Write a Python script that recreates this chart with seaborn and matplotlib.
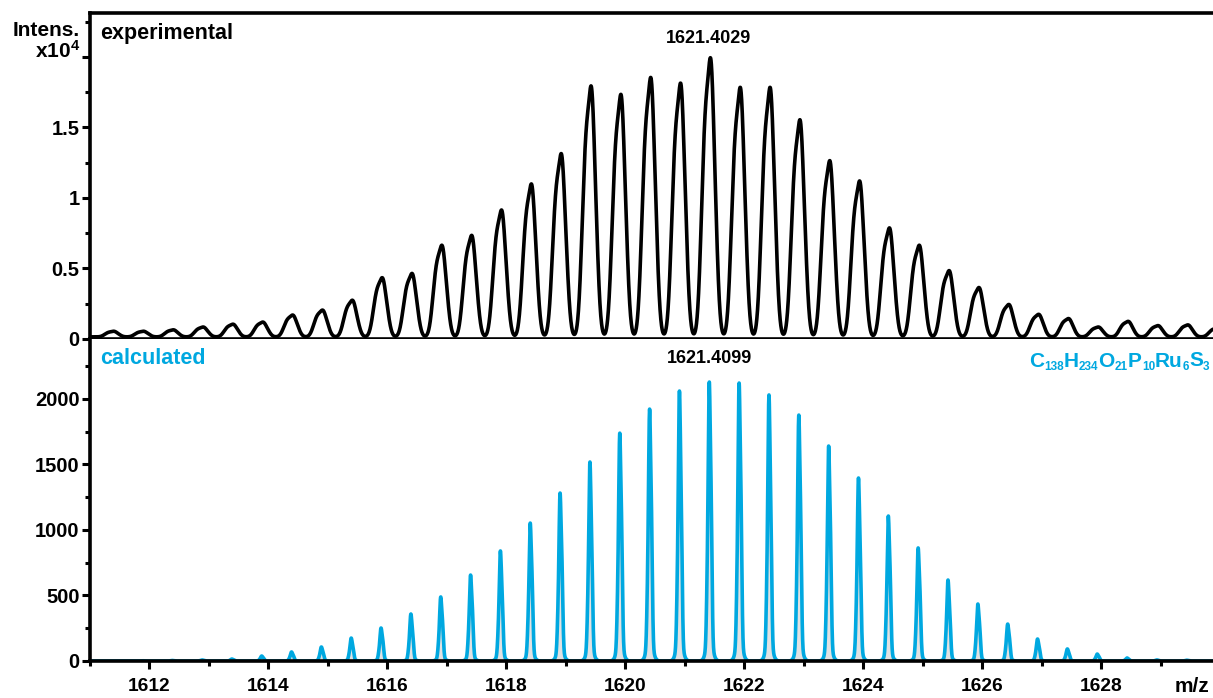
import numpy as np
import pandas as pd
import matplotlib
matplotlib.use("Agg")
import matplotlib.pyplot as plt
import matplotlib.transforms as mtransforms
from matplotlib.ticker import FixedLocator, MultipleLocator
import seaborn as sns

# ---- data -------------------------------------------------------------
# isotope envelope of the 2+ ion: peaks are 1.00335/2 m/z apart
iso_step = 1.00335 / 2

exp_mono = 1621.4029          # most intense experimental peak
exp_index = list(range(-20, 18))
exp_intensity = [400, 400, 500, 700, 900, 1050, 1550, 1900, 2600, 4200,
                 4500, 6500, 7200, 9000, 10850, 13000, 17800, 17200, 18400, 18000,
                 19800, 17700, 17700, 15400, 12500, 11060, 7730, 6500, 4700, 3500,
                 2300, 1600, 1300, 700, 1100, 800, 850, 650]

calc_mono = 1621.4099         # most intense calculated peak
calc_index = list(range(-19, 17))
calc_intensity = [2, 4, 8, 15, 38, 69, 107, 175, 252, 359,
                  489, 656, 840, 1053, 1282, 1519, 1740, 1923, 2061, 2130,
                  2122, 2031, 1878, 1641, 1397, 1107, 863, 618, 435, 282,
                  168, 92, 53, 23, 8, 6]

# line shape of one isotope peak: (offset m/z, width m/z, weight, exponent)
exp_components = [(0.0, 0.11, 1.0, 2.8), (0.035, 0.035, 0.15, 2.0)]
calc_components = [(0.0, 0.016, 1.0, 2.0), (0.032, 0.016, 0.55, 2.0),
                   (-0.03, 0.016, 0.25, 2.0), (0.005, 0.05, 0.1, 2.0)]
exp_baseline = 150

formula_parts = [("C", False), ("138", True), ("H", False), ("234", True),
                 ("O", False), ("21", True), ("P", False), ("10", True),
                 ("Ru", False), ("6", True), ("S", False), ("3", True)]

x_ticks_major = [1612, 1614, 1616, 1618, 1620, 1622, 1624, 1626, 1628]
top_ticks = [0, 5000, 10000, 15000, 20000]
top_tick_labels = ["0", "0.5", "1", "1.5", ""]
bot_ticks = [0, 500, 1000, 1500, 2000]

BLUE = "#00a8e0"
W, H = 1213, 698

# ---- profiles ---------------------------------------------------------
mz = np.linspace(1611.0, 1629.9, 16000)


def component(x, c, s, p):
    return np.exp(-0.5 * np.abs((x - c) / s) ** p)


def peak_shape(x, centre, comps):
    """Unit-height isotope peak built from its sub-components."""
    loc = np.linspace(-0.3, 0.3, 6001)
    norm = sum(w * component(loc, o, s, p) for o, s, w, p in comps).max()
    return sum(w * component(x, centre + o, s, p) for o, s, w, p in comps) / norm


exp_profile = np.full_like(mz, exp_baseline, dtype=float)
for k, h in zip(exp_index, exp_intensity):
    exp_profile += h * peak_shape(mz, exp_mono + k * iso_step, exp_components)

calc_profile = np.zeros_like(mz)
for k, h in zip(calc_index, calc_intensity):
    calc_profile += h * peak_shape(mz, calc_mono + k * iso_step, calc_components)

df_exp = pd.DataFrame({"mz": mz, "intensity": exp_profile})
df_calc = pd.DataFrame({"mz": mz, "intensity": calc_profile})

# ---- figure -----------------------------------------------------------
sns.set_theme(style="ticks")
plt.rcParams["font.family"] = ["Liberation Sans", "DejaVu Sans"]
plt.rcParams["font.weight"] = "bold"
plt.rcParams["mathtext.fontset"] = "custom"
plt.rcParams["mathtext.rm"] = "Liberation Sans:bold"
plt.rcParams["mathtext.bf"] = "Liberation Sans:bold"
plt.rcParams["mathtext.it"] = "Liberation Sans:bold"

fig = plt.figure(figsize=(W / 100, H / 100), dpi=100)
left = 90 / W
ax_top = fig.add_axes([left, (H - 339) / H, 1 - left, 326 / H])
ax_bot = fig.add_axes([left, (H - 661) / H, 1 - left, 322 / H], sharex=ax_top)

LW = 2.6
sns.lineplot(data=df_exp, x="mz", y="intensity", ax=ax_top, color="black",
             linewidth=LW, sort=False, estimator=None)
ax_bot.fill_between(mz, calc_profile, 0, color="#e2e2e2", linewidth=0)
sns.lineplot(data=df_calc, x="mz", y="intensity", ax=ax_bot, color=BLUE,
             linewidth=LW, sort=False, estimator=None)

ax_top.set_xlim(1611.0, 1629.88)
ax_top.set_ylim(0, 23120)
ax_bot.set_ylim(0, 2458)

for ax in (ax_top, ax_bot):
    ax.set_xlabel("")
    ax.set_ylabel("")
    ax.spines["right"].set_visible(False)
    for s in ax.spines.values():
        s.set_linewidth(LW)
        s.set_color("black")
    ax.tick_params(axis="y", which="major", direction="out", length=5.5,
                   width=2.2, labelsize=14.5, pad=2.0, colors="black")
    ax.tick_params(axis="y", which="minor", direction="out", length=3.5,
                   width=2.2, colors="black")

ax_bot.spines["top"].set_visible(False)

ax_top.yaxis.set_major_locator(FixedLocator(top_ticks))
ax_top.set_yticklabels(top_tick_labels)
ax_top.yaxis.set_minor_locator(MultipleLocator(2500))
ax_top.tick_params(axis="x", which="both", bottom=False, labelbottom=False)

ax_bot.yaxis.set_major_locator(FixedLocator(bot_ticks))
ax_bot.set_yticklabels([str(v) for v in bot_ticks])
ax_bot.yaxis.set_minor_locator(MultipleLocator(250))
ax_bot.xaxis.set_major_locator(FixedLocator(x_ticks_major))
ax_bot.set_xticklabels([str(v) for v in x_ticks_major])
ax_bot.xaxis.set_minor_locator(MultipleLocator(1))
ax_bot.tick_params(axis="x", which="major", direction="out", length=5.5,
                   width=2.2, labelsize=13.8, pad=6.5, colors="black")
ax_bot.tick_params(axis="x", which="minor", direction="out", length=3.5,
                   width=2.2, colors="black")

for lab in ax_top.get_yticklabels() + ax_bot.get_yticklabels() + ax_bot.get_xticklabels():
    lab.set_fontweight("bold")


def px(x, y):
    return x / W, 1 - y / H


# panel captions
ax_top.text(0.009, 0.937, "experimental", transform=ax_top.transAxes,
            fontsize=15.5, fontweight="bold", color="black", va="center", ha="left")
ax_bot.text(0.009, 0.94, "calculated", transform=ax_bot.transAxes,
            fontsize=15.5, fontweight="bold", color=BLUE, va="center", ha="left")

tr_top = mtransforms.blended_transform_factory(ax_top.transData, ax_top.transAxes)
tr_bot = mtransforms.blended_transform_factory(ax_bot.transData, ax_bot.transAxes)
ax_top.text(exp_mono, 0.923, f"{exp_mono:.4f}", transform=tr_top, fontsize=13,
            fontweight="bold", ha="center", va="center", color="black")
ax_bot.text(calc_mono, 0.938, f"{calc_mono:.4f}", transform=tr_bot, fontsize=13,
            fontweight="bold", ha="center", va="center", color="black")

# molecular formula, set right-to-left so the subscripts can be sized freely
BIG, SMALL, DROP = 15.0, 8.5, 2.6
DESC = 0.21          # font descent as a fraction of the font size
prev = None
prev_small = None
for text, small in reversed(formula_parts):
    size = SMALL if small else BIG
    if prev is None:
        prev = ax_bot.text(0.997, 0.905, text, transform=ax_bot.transAxes,
                           fontsize=size, fontweight="bold", color=BLUE,
                           ha="right", va="baseline")
    else:
        prev_size = SMALL if prev_small else BIG
        dy = DESC * prev_size + (DROP if (prev_small and not small) else 0.0) \
            - (DROP if (small and not prev_small) else 0.0)
        prev = ax_bot.annotate(text, xy=(0, 0), xycoords=prev, xytext=(0, dy),
                               textcoords="offset points", fontsize=size,
                               fontweight="bold", color=BLUE,
                               ha="right", va="baseline")
    prev_small = small

fig.text(*px(80, 30), "Intens.", fontsize=15, fontweight="bold",
         ha="right", va="center", color="black")
fig.text(*px(80, 51), r"x10$^{\mathbf{4}}$", fontsize=15, fontweight="bold",
         ha="right", va="center", color="black")
fig.text(*px(1192, 687), "m/z", fontsize=15, fontweight="bold",
         ha="center", va="center", color="black")

fig.savefig("out.png", dpi=100)
